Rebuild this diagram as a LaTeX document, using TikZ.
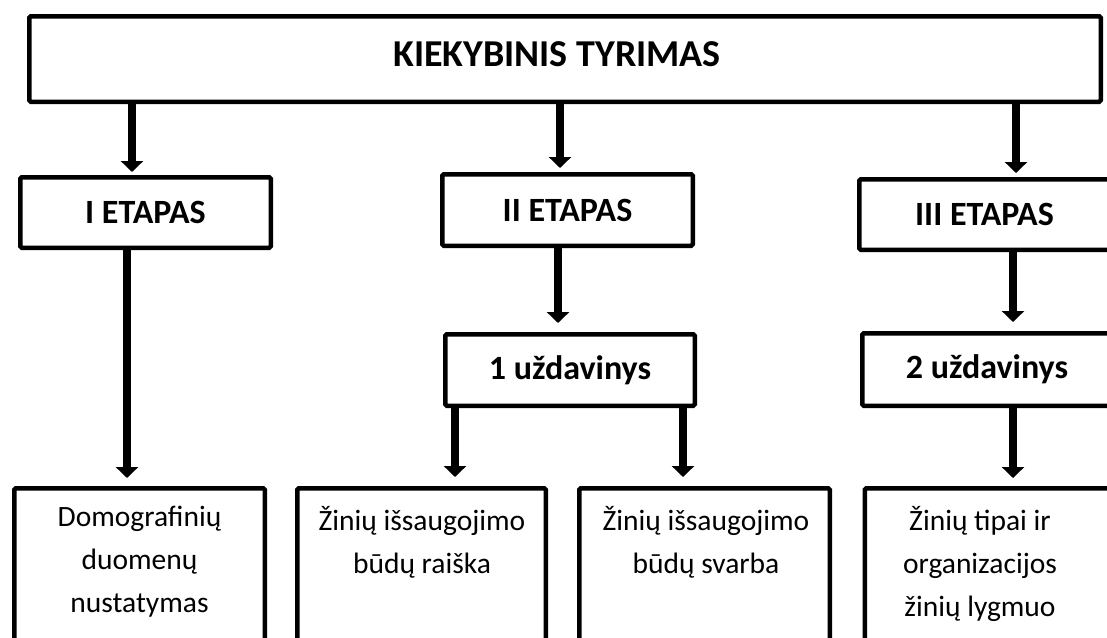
\documentclass[tikz,border=0pt]{standalone}
\usepackage{fontspec}
\setmainfont{Carlito}
\usetikzlibrary{arrows.meta}
\begin{document}
\begin{tikzpicture}[x=1pt,y=-1pt,
  box/.style={draw=black, line width=4.5pt, rounded corners=1.5pt, fill=white, inner sep=0pt},
  stage/.style={box, font=\fontsize{34}{40}\selectfont\bfseries},
  leafbox/.style={box, minimum height=220pt, anchor=north},
  leaftext/.style={font=\fontsize{29.5}{43}\selectfont, align=center, anchor=north, inner sep=0pt},
  flow/.style={line width=8pt, -{Triangle[width=22pt,length=11pt]}},
]
\useasboundingbox (0,0) rectangle (1107,637);
\clip (0,0) rectangle (1107,637);

% main box
\node[box, minimum width=1071.5pt, minimum height=85.5pt] (top) at (565,59) {};
\node[font=\fontsize{38}{44}\selectfont\bfseries, inner sep=0pt] (title) at (557,54) {KIEKYBINIS TYRIMAS};

% stages
\node[stage, minimum width=250.5pt, minimum height=70.5pt] (s1) at (145.5,212.5) {I ETAPAS};
\node[stage, minimum width=250.5pt, minimum height=71.5pt] (s2) at (567.5,210) {II ETAPAS};
\node[stage, minimum width=250.5pt, minimum height=70.5pt] (s3) at (984.5,214.5) {III ETAPAS};

% tasks
\node[stage, minimum width=249.5pt, minimum height=71.5pt] (t1) at (570,370) {1 uždavinys};
\node[stage, minimum width=249.5pt, minimum height=72.5pt] (t2) at (987,369.5) {2 uždavinys};

% result boxes
\node[leafbox, minimum width=250.5pt] (r1) at (139.5,486) {};
\node[leafbox, minimum width=248.5pt] (r2) at (421.5,486) {};
\node[leafbox, minimum width=250.5pt] (r3) at (704.5,486) {};
\node[leafbox, minimum width=250.5pt] (r4) at (990,486) {};
\node[leaftext] (r1t) at (139.5,506) {Domografinių\\duomenų\\nustatymas};
\node[leaftext] (r2t) at (422,506) {Žinių išsaugojimo\\būdų raiška};
\node[leaftext] (r3t) at (706,506) {Žinių išsaugojimo\\būdų svarba};
\node[leaftext] (r4t) at (980,506) {Žinių tipai ir\\organizacijos\\žinių lygmuo};

% arrow columns
\coordinate (a1) at (132,0);
\coordinate (a2) at (127,0);
\coordinate (a3) at (560,0);
\coordinate (a4) at (558,0);
\coordinate (a5) at (455,0);
\coordinate (a6) at (683,0);
\coordinate (a7) at (1016,0);
\coordinate (a8) at (1013,0);

\draw[flow, shorten >=3pt] (top.south -| a1) -- (s1.north -| a1);
\draw[flow, shorten >=4pt] (top.south -| a3) -- (s2.north -| a3);
\draw[flow, shorten >=4pt] (top.south -| a7) -- (s3.north -| a7);
\draw[flow, shorten >=8pt] (s1.south -| a2) -- (r1.north -| a2);
\draw[flow, shorten >=9pt] (s2.south -| a4) -- (t1.north -| a4);
\draw[flow, shorten >=9pt] (s3.south -| a8) -- (t2.north -| a8);
\draw[flow, shorten >=9pt] (t1.south -| a5) -- (r2.north -| a5);
\draw[flow, shorten >=9pt] (t1.south -| a6) -- (r3.north -| a6);
\draw[flow, shorten >=8pt] (t2.south -| a8) -- (r4.north -| a8);
\end{tikzpicture}
\end{document}
